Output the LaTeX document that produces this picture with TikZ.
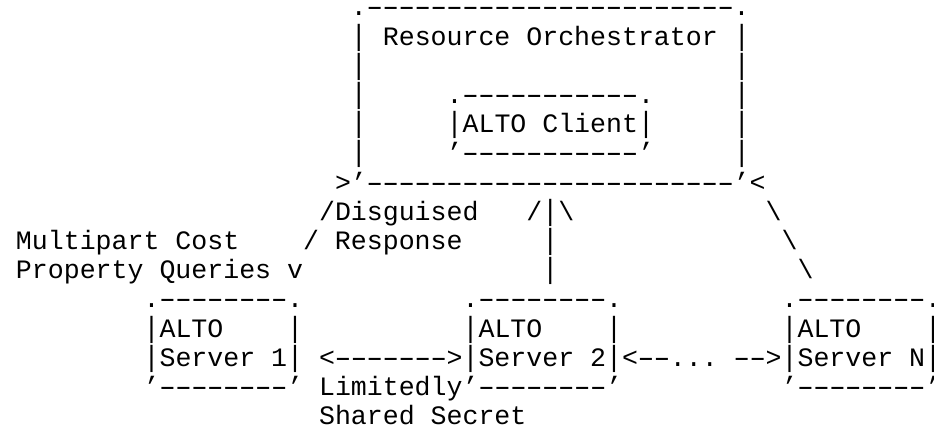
\documentclass[tikz,border=0pt]{standalone}
\usepackage{fontspec}
\usepackage{graphicx}
\setmonofont{Liberation Mono}
% one long hyphen per cell, a bar that fills the line
\newcommand\hy{\makebox[0.6em][c]{\scalebox{1.65}[1]{-}}}
\newcommand\dashrun[1]{\foreach \k in {1,...,#1}{\hy}}
\newcommand\vb{\scalebox{1}[1.1]{|}}
\begin{document}
\begin{tikzpicture}[x=15.95pt,y=-29.2pt,
    glyphs/.style={anchor=base west,inner sep=0pt,outer sep=0pt,
      font=\ttfamily\fontsize{26.58pt}{29.2pt}\selectfont}]
  \fill[white] (-16pt,-13.4pt) rectangle (918pt,-445.4pt);
  \useasboundingbox (-16pt,-13.4pt) rectangle (918pt,-445.4pt);
  % resource orchestrator
  \node[glyphs] (orchTop) at (21,1) {.\dashrun{23}.};
  \foreach \r in {2,...,6}{
    \node[glyphs] (orchL\r) at (21,\r) {\vb};
    \node[glyphs] (orchR\r) at (45,\r) {\vb};
  }
  \node[glyphs] (orchName) at (23,2) {Resource Orchestrator};
  \node[glyphs] (orchBot) at (20,7) {>’\dashrun{23}’<};
  % alto client
  \node[glyphs] (clientTop) at (27,4) {.\dashrun{11}.};
  \node[glyphs] (client) at (27,5) {\vb ALTO Client\vb};
  \node[glyphs] (clientBot) at (27,6) {’\dashrun{11}’};
  % queries
  \node[glyphs] (disguised) at (19,8) {/Disguised};
  \node[glyphs] (upTwo) at (32,8) {/\vb\textbackslash};
  \node[glyphs] (diagA) at (47,8) {\textbackslash};
  \node[glyphs] (multipart) at (0,9) {Multipart Cost};
  \node[glyphs] (response) at (18,9) {/ Response};
  \node[glyphs] (barA) at (33,9) {\vb};
  \node[glyphs] (diagB) at (48,9) {\textbackslash};
  \node[glyphs] (property) at (0,10) {Property Queries v};
  \node[glyphs] (barB) at (33,10) {\vb};
  \node[glyphs] (diagC) at (49,10) {\textbackslash};
  % alto servers
  \foreach \c/\s in {8/One,28/Two,48/N}{
    \node[glyphs] (srv\s Top) at (\c,11) {.\dashrun{8}.};
    \node[glyphs] (srv\s Alto) at (\c,12) {\vb ALTO};
    \node[glyphs] (srv\s Side) at (\c+9,12) {\vb};
    \node[glyphs] (srv\s Bot) at (\c,14) {’\dashrun{8}’};
  }
  \node[glyphs] (srvOne) at (8,13) {\vb Server 1\vb};
  \node[glyphs] (srvTwo) at (19,13) {<\dashrun{7}>\vb Server 2\vb<\dashrun{2}...};
  \node[glyphs] (srvN) at (45,13) {\dashrun{2}>\vb Server N\vb};
  \node[glyphs] (limitedly) at (19,14) {Limitedly};
  \node[glyphs] (secret) at (19,15) {Shared Secret};
\end{tikzpicture}
\end{document}
